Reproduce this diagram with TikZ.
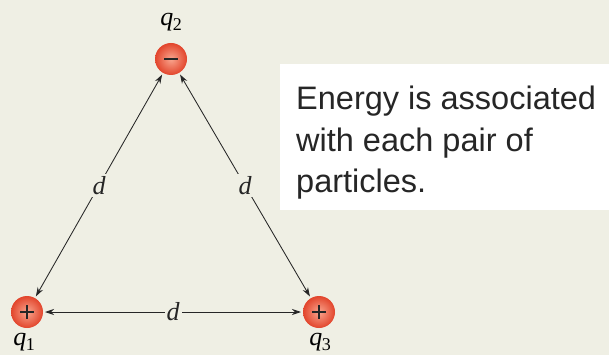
\documentclass[tikz,border=0pt]{standalone}
\usepackage{fontspec}
\setsansfont{Liberation Sans}
\newfontfamily\lblfont{Liberation Serif}
\usetikzlibrary{arrows.meta,calc}
\definecolor{bg}{HTML}{EFEFE4}
\definecolor{ballin}{HTML}{F9A58E}
\definecolor{ballout}{HTML}{E2452C}
\newcommand{\qsub}[1]{\textit{q}\kern-0.5pt\raisebox{-0.22em}{\fontsize{18}{20}\selectfont #1}}
\tikzset{
  charge/.style={circle, minimum size=32pt, inner sep=0pt, outer sep=2pt,
    inner color=ballin, outer color=ballout},
  plussign/.style={path picture={\draw[line width=2.2pt,black!85]
      ($(path picture bounding box.center)+(-7,0)$) -- ++(14,0)
      ($(path picture bounding box.center)+(0,-7)$) -- ++(0,14);}},
  minussign/.style={path picture={\draw[line width=2.6pt,black!85]
      ($(path picture bounding box.center)+(-7,0)$) -- ++(14,0);}},
  link/.style={{Stealth[length=9pt,width=6pt]}-{Stealth[length=9pt,width=6pt]}, line width=0.85pt, black!85},
  dlabel/.style={fill=bg, inner sep=2pt, font=\lblfont\itshape\fontsize{26}{28}\selectfont},
  qlabel/.style={font=\lblfont\fontsize{26}{28}\selectfont, inner sep=0pt},
  caption/.style={anchor=base west, inner sep=0pt, font=\sffamily\fontsize{32.5}{40}\selectfont, text=black!85}
}
\begin{document}
\begin{tikzpicture}[x=1pt,y=-1pt]
\fill[bg] (0,0) rectangle (609,355);
\useasboundingbox (0,0) rectangle (609,355);
\fill[white] (280,64) rectangle (609,210);
\node[charge, plussign] (q1) at (27,312) {};
\node[charge, minussign] (q2) at (171,59) {};
\node[charge, plussign] (q3) at (319,312) {};
\node[qlabel] (l1) at (24,342) {\qsub{1}};
\node[qlabel] (l2) at (171,22) {\qsub{2}};
\node[qlabel] (l3) at (320,342) {\qsub{3}};
\draw[link] (q1) -- node[dlabel] {d} (q2);
\draw[link] (q2) -- node[dlabel] {d} (q3);
\draw[link] (q1) -- node[dlabel] {d} (q3);
\node[caption] (t1) at (296,110) {Energy is associated};
\node[caption] (t2) at (296,152) {with each pair of};
\node[caption] (t3) at (296,193) {particles.};
\end{tikzpicture}
\end{document}
